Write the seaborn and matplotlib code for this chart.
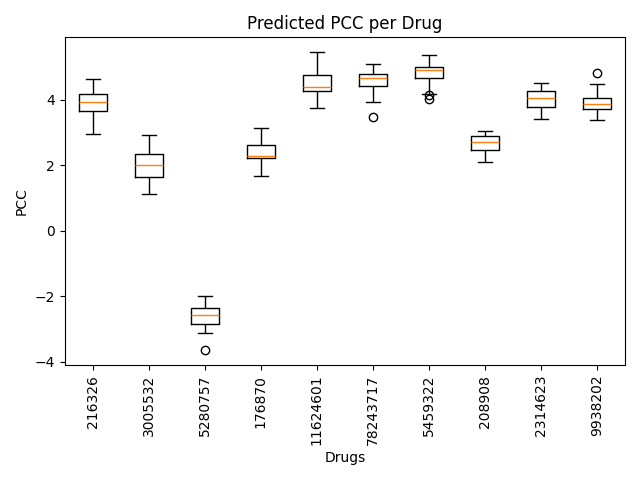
import matplotlib
matplotlib.use("Agg")
import matplotlib.pyplot as plt
import seaborn as sns
import pandas as pd

drugs = ["216326", "3005532", "5280757", "176870", "11624601",
         "78243717", "5459322", "208908", "2314623", "9938202"]

pcc_216326 = [2.95, 3.30, 3.55, 3.66, 3.75, 3.85, 3.93, 4.00, 4.10, 4.18, 4.30, 4.45, 4.63]
pcc_3005532 = [1.12, 1.40, 1.55, 1.65, 1.80, 1.92, 2.00, 2.10, 2.22, 2.34, 2.50, 2.70, 2.92]
pcc_5280757 = [-3.65, -3.12, -3.00, -2.85, -2.75, -2.66, -2.59, -2.52, -2.44, -2.36, -2.25, -2.10, -1.98]
pcc_176870 = [1.68, 1.95, 2.10, 2.22, 2.24, 2.26, 2.28, 2.38, 2.50, 2.61, 2.75, 2.95, 3.13]
pcc_11624601 = [3.74, 3.95, 4.15, 4.26, 4.30, 4.34, 4.38, 4.50, 4.62, 4.76, 4.95, 5.20, 5.45]
pcc_78243717 = [3.47, 3.93, 4.20, 4.41, 4.50, 4.58, 4.66, 4.70, 4.75, 4.79, 4.88, 4.98, 5.09]
pcc_5459322 = [4.02, 4.13, 4.17, 4.66, 4.75, 4.85, 4.91, 4.94, 4.97, 5.00, 5.10, 5.22, 5.37]
pcc_208908 = [2.09, 2.25, 2.38, 2.46, 2.55, 2.63, 2.70, 2.76, 2.83, 2.89, 2.95, 3.00, 3.05]
pcc_2314623 = [3.41, 3.55, 3.68, 3.77, 3.88, 3.97, 4.05, 4.12, 4.20, 4.26, 4.35, 4.43, 4.51]
pcc_9938202 = [3.37, 3.55, 3.65, 3.71, 3.78, 3.83, 3.87, 3.93, 4.00, 4.05, 4.20, 4.48, 4.82]

series = [pcc_216326, pcc_3005532, pcc_5280757, pcc_176870, pcc_11624601,
          pcc_78243717, pcc_5459322, pcc_208908, pcc_2314623, pcc_9938202]

rows = []
for d, vals in zip(drugs, series):
    for v in vals:
        rows.append({"Drug": d, "PCC": v})
df = pd.DataFrame(rows)

fig, ax = plt.subplots(figsize=(6.4, 4.8), dpi=100)
sns.boxplot(data=df, x="Drug", y="PCC", order=drugs, ax=ax,
            color="black", fill=False, width=0.5, linewidth=1, fliersize=6,
            medianprops=dict(color="#ff7f0e", linewidth=1),
            flierprops=dict(marker="o", markerfacecolor="none",
                            markeredgecolor="black"))
ax.set_title("Predicted PCC per Drug")
ax.set_xlabel("Drugs")
ax.set_ylabel("PCC")
ax.set_xlim(-0.5, len(drugs) - 0.5)
ax.tick_params(axis="x", rotation=90)
fig.tight_layout()
fig.savefig("out.png", dpi=100)
